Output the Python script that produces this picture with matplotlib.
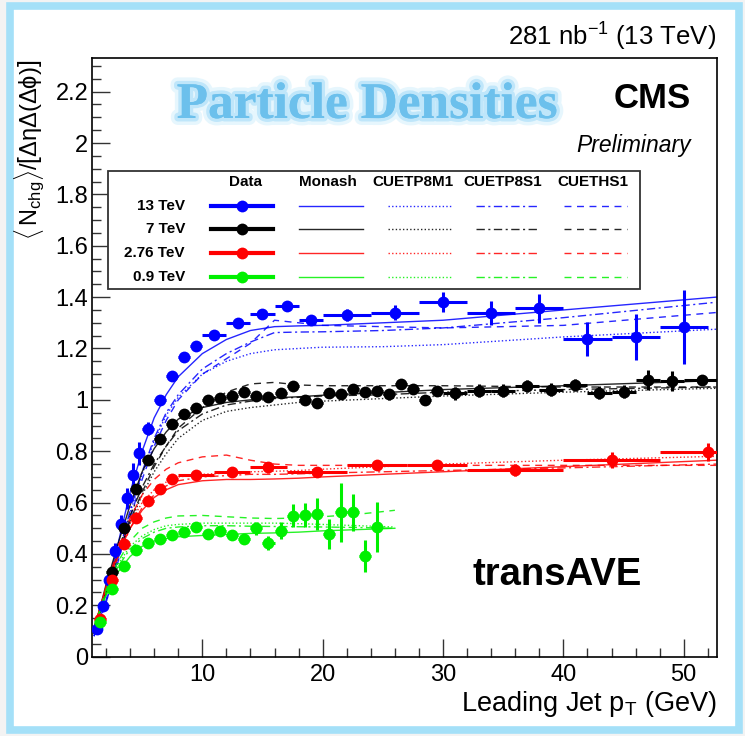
import matplotlib
matplotlib.use("Agg")
import matplotlib.pyplot as plt
import matplotlib.patheffects as pe
from matplotlib.patches import Rectangle
from matplotlib.lines import Line2D
from matplotlib.ticker import MultipleLocator, FuncFormatter

plt.rcParams['font.family'] = ['Liberation Sans', 'DejaVu Sans']
plt.rcParams['mathtext.fontset'] = 'custom'
plt.rcParams['mathtext.rm'] = 'Liberation Sans'
plt.rcParams['mathtext.it'] = 'Liberation Sans:italic'
plt.rcParams['mathtext.bf'] = 'Liberation Sans:bold'

# ---------------- measured data ----------------
x13 = [1.25, 1.75, 2.25, 2.75, 3.25, 3.75, 4.25, 4.75,
       5.5, 6.5, 7.5, 8.5, 9.5,
       11, 13, 15, 17, 19,
       22, 26, 30, 34, 38, 42, 46, 50]
xe13 = [0.25] * 8 + [0.5] * 5 + [1.0] * 5 + [2.0] * 8
y13 = [0.107, 0.199, 0.300, 0.413, 0.516, 0.617, 0.708, 0.792,
       0.888, 1.001, 1.092, 1.165, 1.210,
       1.253, 1.300, 1.333, 1.365, 1.310,
       1.330, 1.340, 1.382, 1.337, 1.357, 1.237, 1.244, 1.283]
ye13 = [0.008, 0.010, 0.012, 0.030, 0.035, 0.040, 0.045, 0.045,
        0.025, 0.012, 0.010, 0.010, 0.010,
        0.012, 0.012, 0.013, 0.015, 0.020,
        0.023, 0.030, 0.039, 0.047, 0.056, 0.067, 0.089, 0.143]

x7 = [2.5, 3.5, 4.5, 5.5, 6.5, 7.5, 8.5, 9.5, 10.5, 11.5, 12.5, 13.5, 14.5,
      15.5, 16.5, 17.5, 18.5, 19.5, 20.5, 21.5, 22.5, 23.5, 24.5, 25.5,
      26.5, 27.5, 28.5, 29.5,
      31, 33, 35, 37, 39, 41, 43, 45, 47, 49, 51.5]
xe7 = [0.5] * 28 + [1.0] * 10 + [1.5]
y7 = [0.331, 0.500, 0.654, 0.766, 0.846, 0.907, 0.945, 0.967, 0.998, 1.009,
      1.014, 1.032, 1.015, 1.012, 1.026, 1.054, 1.000, 0.989, 1.026, 1.022,
      1.041, 1.032, 1.035, 1.021, 1.062, 1.041, 1.000, 1.035,
      1.026, 1.035, 1.035, 1.054, 1.039, 1.058, 1.028, 1.032, 1.077, 1.075,
      1.077]
ye7 = [0.010] * 8 + [0.012] * 7 + [0.020] * 13 + [0.025] * 8 + [0.038, 0.039, 0.012]

x276 = [1.5, 2.5, 3.5, 4.5, 5.5, 6.5, 7.5, 9.5, 12.5, 15.5, 19.5, 24.5, 29.5,
        36, 44, 52]
xe276 = [0.5] * 7 + [1.5] * 3 + [2.5] * 3 + [4.0] * 3
y276 = [0.145, 0.300, 0.440, 0.539, 0.607, 0.652, 0.692, 0.708, 0.721, 0.737,
        0.720, 0.746, 0.746, 0.727, 0.766, 0.798]
ye276 = [0.010, 0.010, 0.012, 0.012, 0.012, 0.012, 0.012, 0.015, 0.015, 0.020,
         0.020, 0.020, 0.020, 0.025, 0.030, 0.035]

x09 = [1.5, 2.5, 3.5, 4.5, 5.5, 6.5, 7.5, 8.5, 9.5, 10.5, 11.5, 12.5, 13.5,
       14.5, 15.5, 16.5, 17.5, 18.5, 19.5, 20.5, 21.5, 22.5, 23.5, 24.5]
xe09 = [0.5] * 24
y09 = [0.136, 0.262, 0.354, 0.415, 0.444, 0.457, 0.474, 0.487, 0.506, 0.478,
       0.489, 0.474, 0.458, 0.500, 0.441, 0.491, 0.549, 0.552, 0.556, 0.478,
       0.562, 0.562, 0.393, 0.504]
ye09 = [0.008, 0.010, 0.010, 0.010, 0.010, 0.010, 0.010, 0.010, 0.012, 0.012,
        0.012, 0.013, 0.015, 0.026, 0.027, 0.034, 0.045, 0.047, 0.062, 0.060,
        0.115, 0.073, 0.062, 0.097]

# ---------------- MC tune predictions ----------------
xm = [1, 2, 3, 4, 5, 6, 7, 8, 10, 12, 14, 16, 18, 20, 25, 30, 40, 52.7]
m13_monash = [0.09, 0.25, 0.44, 0.64, 0.80, 0.93, 1.02, 1.09, 1.18, 1.235, 1.27, 1.285, 1.288, 1.29, 1.30, 1.31, 1.35, 1.40]
m13_m1 = [0.08, 0.21, 0.38, 0.56, 0.71, 0.84, 0.94, 1.01, 1.10, 1.15, 1.18, 1.195, 1.20, 1.205, 1.207, 1.215, 1.245, 1.275]
m13_s1 = [0.08, 0.22, 0.39, 0.57, 0.72, 0.85, 0.95, 1.02, 1.12, 1.18, 1.225, 1.262, 1.264, 1.265, 1.27, 1.28, 1.32, 1.38]
m13_hs1 = [0.08, 0.21, 0.37, 0.54, 0.69, 0.82, 0.92, 1.00, 1.10, 1.16, 1.22, 1.31, 1.30, 1.29, 1.285, 1.28, 1.29, 1.34]

m7_monash = [0.10, 0.28, 0.44, 0.59, 0.72, 0.81, 0.875, 0.925, 0.97, 0.99, 1.00, 1.008, 1.012, 1.018, 1.028, 1.04, 1.055, 1.075]
m7_m1 = [0.09, 0.25, 0.39, 0.52, 0.63, 0.72, 0.79, 0.85, 0.92, 0.955, 0.97, 0.98, 0.99, 0.995, 1.005, 1.015, 1.03, 1.045]
m7_s1 = [0.09, 0.26, 0.41, 0.55, 0.66, 0.75, 0.82, 0.88, 0.945, 0.98, 0.995, 1.005, 1.01, 1.015, 1.02, 1.03, 1.04, 1.05]
m7_hs1 = [0.09, 0.25, 0.40, 0.53, 0.64, 0.74, 0.82, 0.89, 0.97, 1.03, 1.062, 1.068, 1.058, 1.055, 1.055, 1.055, 1.05, 1.05]

m276_monash = [0.11, 0.27, 0.40, 0.50, 0.57, 0.62, 0.65, 0.67, 0.685, 0.69, 0.69, 0.692, 0.695, 0.70, 0.71, 0.72, 0.74, 0.765]
m276_m1 = [0.11, 0.27, 0.41, 0.52, 0.60, 0.65, 0.68, 0.70, 0.71, 0.715, 0.72, 0.722, 0.725, 0.73, 0.74, 0.75, 0.765, 0.78]
m276_s1 = [0.11, 0.26, 0.39, 0.50, 0.58, 0.63, 0.665, 0.685, 0.70, 0.705, 0.71, 0.71, 0.712, 0.715, 0.72, 0.725, 0.735, 0.75]
m276_hs1 = [0.11, 0.27, 0.42, 0.54, 0.63, 0.69, 0.73, 0.755, 0.778, 0.785, 0.765, 0.75, 0.745, 0.745, 0.745, 0.745, 0.745, 0.745]

xm09 = [1, 2, 3, 4, 5, 6, 7, 8, 10, 12, 14, 16, 18, 20, 23, 26]
m09_monash = [0.11, 0.24, 0.33, 0.39, 0.43, 0.45, 0.46, 0.467, 0.472, 0.476, 0.48, 0.482, 0.485, 0.49, 0.495, 0.50]
m09_m1 = [0.11, 0.25, 0.36, 0.43, 0.47, 0.495, 0.51, 0.515, 0.52, 0.52, 0.52, 0.52, 0.518, 0.515, 0.51, 0.505]
m09_s1 = [0.11, 0.24, 0.35, 0.42, 0.46, 0.485, 0.50, 0.505, 0.51, 0.51, 0.508, 0.507, 0.506, 0.505, 0.503, 0.50]
m09_hs1 = [0.11, 0.26, 0.37, 0.45, 0.50, 0.525, 0.54, 0.548, 0.55, 0.545, 0.54, 0.538, 0.54, 0.545, 0.555, 0.57]

energies = ['13 TeV', '7 TeV', '2.76 TeV', '0.9 TeV']
colors = ['#0000ff', '#000000', '#ff0000', '#00f000']
tunes = ['Monash', 'CUETP8M1', 'CUETP8S1', 'CUETHS1']
tune_styles = ['-', (0, (1, 1.6)), (0, (6, 2.5, 1.5, 2.5)), (0, (5, 4))]

W, H = 745, 736
fig = plt.figure(figsize=(W / 100, H / 100), dpi=100, facecolor='#f3f3f3')

# light blue frame around the canvas
frame = Rectangle((10 / W, 6 / H), 729 / W, 724 / H, transform=fig.transFigure,
                  facecolor='white', edgecolor='#a4e0f8', linewidth=5.5, zorder=-5)
fig.add_artist(frame)

L, R, T, B = 92.3, 716.7, 58.0, 656.7
ax = fig.add_axes([L / W, (H - B) / H, (R - L) / W, (B - T) / H])
ax.set_facecolor('white')
ax.set_xlim(0.86, 52.74)
ax.set_ylim(0, 2.331)

model_sets = [
    (xm, [m13_monash, m13_m1, m13_s1, m13_hs1]),
    (xm, [m7_monash, m7_m1, m7_s1, m7_hs1]),
    (xm, [m276_monash, m276_m1, m276_s1, m276_hs1]),
    (xm09, [m09_monash, m09_m1, m09_s1, m09_hs1]),
]
for (xs, curves), c in zip(model_sets, colors):
    for ys, ls in zip(curves, tune_styles):
        ax.plot(xs, ys, color=c, lw=1.0, ls=ls, alpha=0.85, zorder=2)

data_sets = [(x13, y13, xe13, ye13), (x7, y7, xe7, ye7),
             (x276, y276, xe276, ye276), (x09, y09, xe09, ye09)]
for (x, y, xe, ye), c in zip(data_sets, colors):
    ax.errorbar(x, y, xerr=xe, yerr=ye, fmt='o', color=c, ms=8.5, mew=0,
                elinewidth=2.2, capsize=2.5, capthick=2.2, zorder=4)

# axes styling
ax.xaxis.set_major_locator(MultipleLocator(10))
ax.xaxis.set_minor_locator(MultipleLocator(2))
ax.yaxis.set_major_locator(MultipleLocator(0.2))
ax.yaxis.set_minor_locator(MultipleLocator(0.05))
ax.yaxis.set_major_formatter(FuncFormatter(lambda v, p: '%g' % round(v, 2)))
ax.tick_params(which='both', direction='in', top=False, right=False,
               labelsize=17, width=1.0, color='#333333')
ax.tick_params(which='major', length=13)
ax.tick_params(which='minor', length=6.5)
ax.tick_params(axis='y', pad=3)
ax.tick_params(axis='x', pad=5)
for s in ax.spines.values():
    s.set_linewidth(1.2)

# legend table
def fx(px):
    return (px - L) / (R - L)

def fy(py):
    return (B - py) / (B - T)

ax.add_patch(Rectangle((fx(108), fy(289)), fx(640) - fx(108), fy(170.5) - fy(289),
                       transform=ax.transAxes, facecolor='white', edgecolor='#333333',
                       lw=1.3, zorder=6))
head_x = [246, 328, 413, 502.5, 593]
for hx, lab in zip(head_x, ['Data'] + tunes):
    ax.text(fx(hx), fy(181.7), lab, transform=ax.transAxes, ha='center', va='center',
            fontsize=11, fontweight='bold', zorder=7)
row_y = [205.6, 229.0, 253.0, 276.8]
seg = [(299, 362.5), (387.7, 451), (476, 538.6), (564, 627)]
for ry, lab, c in zip(row_y, energies, colors):
    ax.text(fx(185), fy(ry), lab, transform=ax.transAxes, ha='right', va='center',
            fontsize=11, fontweight='bold', zorder=7)
    ax.add_line(Line2D([fx(210.5), fx(273)], [fy(ry), fy(ry)], transform=ax.transAxes,
                       color=c, lw=3, zorder=7))
    ax.add_line(Line2D([fx(241.5)], [fy(ry)], transform=ax.transAxes, marker='o',
                       ms=8.5, mew=0, color=c, zorder=8))
    for (a, b), ls in zip(seg, tune_styles):
        ax.add_line(Line2D([fx(a), fx(b)], [fy(ry), fy(ry)], transform=ax.transAxes,
                           color=c, lw=1.0, ls=ls, alpha=0.85, zorder=7))

# labels and annotations
fig.text(R / W, (H - 711) / H, r'Leading Jet p$_{\mathrm{T}}$ (GeV)', ha='right',
         va='baseline', fontsize=19.5)
fig.text(30 / W, (H - 60) / H,
         r'$\langle\,\mathrm{N}_{\mathrm{chg}}\rangle/\left[\Delta\mathrm{\eta}\Delta(\Delta\mathrm{\phi})\right]$',
         rotation=90, ha='center', va='top', fontsize=17)
fig.text(716 / W, (H - 46) / H, r'281 nb$^{\mathrm{-1}}$ (13 TeV)', ha='right',
         va='baseline', fontsize=18.5)
fig.text(691 / W, (H - 108) / H, 'CMS', ha='right', va='baseline', fontsize=25,
         fontweight='bold')
fig.text(691 / W, (H - 152) / H, 'Preliminary', ha='right', va='baseline',
         fontsize=16.5, style='italic')
fig.text(367 / W, (H - 118) / H, 'Particle Densities', ha='center', va='baseline',
         fontsize=37, fontweight='bold', family='Liberation Serif', color='#6cc0ec',
         path_effects=[pe.withStroke(linewidth=10, foreground='#e6f6fd'),
                       pe.withStroke(linewidth=5, foreground='#bfe6fa'),
                       pe.Normal()])
fig.text(557 / W, (H - 585) / H, 'transAVE', ha='center', va='baseline',
         fontsize=27.5, fontweight='bold')

fig.savefig('out.png', dpi=100, facecolor=fig.get_facecolor())
